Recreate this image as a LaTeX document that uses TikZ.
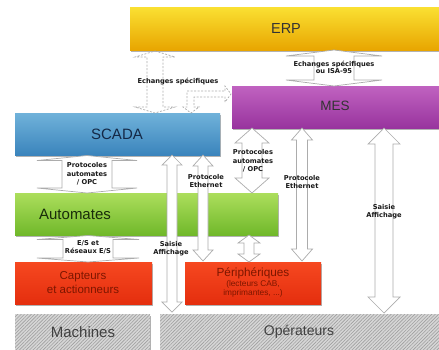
\documentclass[tikz,border=0pt]{standalone}
\usepackage{fontspec}
\setmainfont{Liberation Sans}
\newfontfamily\lblfont{DejaVu Sans}
\usetikzlibrary{shadows,patterns.meta,calc}
\definecolor{erpT}{RGB}{250,224,50}
\definecolor{erpB}{RGB}{232,165,0}
\definecolor{mesT}{RGB}{192,98,192}
\definecolor{mesB}{RGB}{152,52,158}
\definecolor{scaT}{RGB}{112,178,218}
\definecolor{scaB}{RGB}{58,132,188}
\definecolor{autT}{RGB}{172,222,92}
\definecolor{autB}{RGB}{112,184,42}
\definecolor{redT}{RGB}{246,72,32}
\definecolor{redB}{RGB}{228,46,14}
\definecolor{redtxt}{RGB}{125,22,0}
\newcommand\vdarr[7][blk]{%
\draw[#1] (#2,#3) -- ({#2+#6},{#3+#7}) -- ({#2+#5},{#3+#7}) -- ({#2+#5},{#4-#7}) -- ({#2+#6},{#4-#7}) -- (#2,#4) -- ({#2-#6},{#4-#7}) -- ({#2-#5},{#4-#7}) -- ({#2-#5},{#3+#7}) -- ({#2-#6},{#3+#7}) -- cycle;}
\tikzset{
 box/.style={anchor=north west, inner sep=0pt, draw=none,
   drop shadow={shadow xshift=0.6pt, shadow yshift=-1.3pt, opacity=0.3, fill=black}},
 hatchbox/.style={box, fill=gray!32,
   postaction={pattern={Lines[angle=45,distance=2.4pt,line width=0.6pt]}, pattern color=gray!75}},
 blk/.style={draw=gray!65, fill=white, line width=0.7pt},
 dsh/.style={draw=gray!65, dash pattern=on 2pt off 1.5pt, line width=0.7pt},
 lbl/.style={font=\lblfont\bfseries\fontsize{6.7}{8.3}\selectfont, align=center, inner sep=0pt, text=black!90},
 big/.style={font=\fontsize{15}{17}\selectfont, inner sep=0pt},
}
\begin{document}
\begin{tikzpicture}[x=1pt,y=-1pt]
\useasboundingbox (0,0) rectangle (439,349);
% boxes
\node[box, top color=erpT, bottom color=erpB, minimum width=309pt, minimum height=43pt] (erp) at (130,7) {};
\node[box, top color=mesT, bottom color=mesB, minimum width=207pt, minimum height=42pt] (mes) at (232,86) {};
\node[box, top color=scaT, bottom color=scaB, minimum width=205pt, minimum height=42pt] (scada) at (15,113) {};
\node[box, top color=autT, bottom color=autB, minimum width=263pt, minimum height=42pt] (aut) at (15,193) {};
\node[box, top color=redT, bottom color=redB, minimum width=137pt, minimum height=42pt] (capt) at (15,262) {};
\node[box, top color=redT, bottom color=redB, minimum width=136pt, minimum height=42pt] (peri) at (185,262) {};
\node[hatchbox, minimum width=135pt, minimum height=36pt] (mach) at (15,314) {};
\node[hatchbox, minimum width=279pt, minimum height=36pt] (oper) at (160,314) {};
% box texts
\node[big, font=\fontsize{14.5}{17}\selectfont, text=black!80] (terp) at (286,29) {ERP};
\node[big, font=\fontsize{13.5}{17}\selectfont, text=black!80] (tmes) at (335,106) {MES};
\node[big, text={rgb,255:red,20;green,40;blue,70}] (tsca) at (117,134) {SCADA};
\node[big, text={rgb,255:red,25;green,45;blue,10}] (taut) at (75,214) {Automates};
\node[font=\fontsize{11.5}{14}\selectfont, align=center, text=redtxt, inner sep=0pt] (tcap) at (83,283) {Capteurs\\et actionneurs};
\node[font=\fontsize{11.8}{14}\selectfont, text=redtxt, inner sep=0pt] (tper) at (253,273) {Périphériques};
\node[font=\fontsize{8.3}{9}\selectfont, align=center, text=redtxt, inner sep=0pt] (tper2) at (253,289) {(lecteurs CAB,\\imprimantes, ...)};
\node[big, text=black!75] (tmach) at (83,332) {Machines};
\node[big, font=\fontsize{14}{17}\selectfont, text=black!75] (toper) at (299,332) {Opérateurs};
% block arrows
\vdarr{334}{50}{86}{20}{48}{6}
\vdarr{87}{155.5}{193}{25}{50}{5}
\vdarr{88}{235.5}{262}{25}{51}{4}
\vdarr{172}{155}{312}{5}{10}{10}
\vdarr{203}{155}{261}{5}{10}{11}
\vdarr{252}{128}{193}{10}{17}{15}
\vdarr{249}{235}{262}{5}{11}{8}
\vdarr{302}{128}{261}{5.5}{10.5}{12}
\vdarr{384}{128}{313}{9}{16}{16}
% dashed arrows
\vdarr[dsh]{155}{51}{113}{8}{20}{6}
\draw[dsh] (187,91) -- (225,91) -- (225,86) -- (231,94) -- (225,102) -- (225,97) -- (194,97) -- (194,107) -- (199,107) -- (191,113) -- (183,107) -- (187,107) -- cycle;
% labels
\node[lbl] (l1) at (178,82) {Echanges spécifiques};
\node[lbl, font=\lblfont\bfseries\fontsize{6.7}{7.2}\selectfont] (l2) at (334,67) {Echanges spécifiques\\ou ISA-95};
\node[lbl] (l3) at (87,174) {Protocoles\\automates\\/ OPC};
\node[lbl] (l4) at (88,247.5) {E/S et\\Réseaux E/S};
\node[lbl] (l5) at (171,249) {Saisie\\Affichage};
\node[lbl] (l6) at (206,181) {Protocole\\Ethernet};
\node[lbl] (l7) at (253,161) {Protocoles\\automates\\/ OPC};
\node[lbl] (l8) at (302,182) {Protocole\\Ethernet};
\node[lbl] (l9) at (384,212) {Saisie\\Affichage};
\end{tikzpicture}
\end{document}
